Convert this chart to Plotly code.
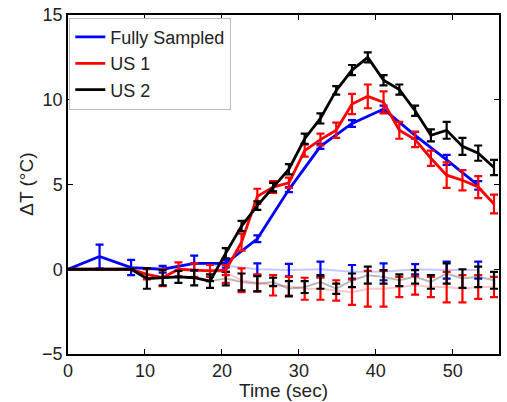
import plotly.graph_objects as go

# ---- data ----
t_us = [0, 2.05, 4.1, 6.15, 8.2, 10.25, 12.3, 14.35, 16.4, 18.45, 20.5, 22.55, 24.6, 26.65,
        28.7, 30.75, 32.8, 34.85, 36.9, 38.95, 41.0, 43.05, 45.1, 47.15, 49.2, 51.25, 53.3, 55.35]
t_fs = [0, 4.1, 8.2, 12.3, 16.4, 20.5, 24.6, 28.7, 32.8, 36.9, 41.0, 45.1, 49.2, 53.3]

fs_val = [0, 0.75, 0.1, 0.0, 0.35, 0.35, 1.8, 4.7, 7.25, 8.6, 9.45, 7.9, 6.45, 4.95]
fs_err = [0, 0.7, 0.45, 0.2, 0.45, 0.25, 0.2, 0.15, 0.15, 0.2, 0.2, 0.2, 0.3, 0.25]

us1_val = [0, 0, 0, 0, 0, -0.3, -0.5, 0.0, -0.05, -0.1, -0.05, 1.6, 4.3, 4.85,
           5.1, 7.0, 7.65, 8.2, 9.75, 10.2, 9.85, 8.2, 7.65, 6.55, 5.55, 5.25, 4.85, 3.85]
us1_err = [0, 0, 0, 0, 0, 0.3, 0.5, 0.4, 0.4, 0.35, 0.3, 0.5, 0.45, 0.35,
           0.3, 0.35, 0.35, 0.45, 0.6, 0.7, 0.65, 0.5, 0.45, 0.45, 0.75, 0.6, 0.65, 0.55]

us2_val = [0, 0, 0, 0, 0, -0.55, -0.5, -0.45, -0.5, -0.7, 0.95, 2.55, 3.75, 4.85,
           5.9, 7.7, 8.9, 10.55, 11.75, 12.5, 11.15, 10.6, 9.35, 7.9, 8.2, 7.25, 6.85, 6.0]
us2_err = [0, 0, 0, 0, 0, 0.6, 0.45, 0.35, 0.45, 0.4, 0.3, 0.3, 0.25, 0.25,
           0.3, 0.3, 0.3, 0.25, 0.3, 0.3, 0.3, 0.3, 0.3, 0.35, 0.5, 0.5, 0.45, 0.45]

# control region (faded lines)
t_fs_ctrl = [16.4, 20.5, 24.6, 28.7, 32.8, 36.9, 41.0, 45.1, 49.2, 53.3]
fs_ctrl_val = [0.35, 0.2, 0.0, -0.05, 0.0, -0.15, -0.15, 0.0, -0.05, -0.05]
fs_ctrl_err = [0, 0.35, 0.35, 0.37, 0.45, 0.4, 0.5, 0.3, 0.5, 0.5]

t_us_ctrl = [18.45, 20.5, 22.55, 24.6, 26.65, 28.7, 30.75, 32.8, 34.85, 36.9,
             38.95, 41.0, 43.05, 45.1, 47.15, 49.2, 51.25, 53.3, 55.35]
us1_ctrl_val = [-0.1, -0.2, -0.65, -0.8, -0.95, -1.0, -1.15, -1.15, -1.25, -1.35,
                -1.15, -1.15, -1.05, -0.95, -1.05, -1.05, -1.15, -1.05, -1.05]
us1_ctrl_err = [0, 0.6, 0.7, 0.5, 0.6, 0.55, 0.65, 0.65, 0.6, 0.75,
                1.05, 1.05, 0.6, 0.55, 0.6, 0.9, 0.8, 0.7, 0.6]
us2_ctrl_val = [-0.7, -0.55, -0.75, -0.85, -0.75, -1.15, -1.05, -0.75, -1.15, -0.65,
                -0.35, -0.45, -0.65, -0.45, -0.75, -0.25, -0.55, -0.45, -0.65]
us2_ctrl_err = [0, 0.4, 0.5, 0.45, 0.25, 0.45, 0.35, 0.4, 0.3, 0.4,
                0.5, 0.4, 0.35, 0.4, 0.4, 0.6, 0.55, 0.6, 0.5]

x_ticks = [0, 10, 20, 30, 40, 50]
y_ticks = [-5, 0, 5, 10, 15]
x_title = "Time (sec)"
y_title = "ΔT (°C)"

BLUE = "#0000ff"
RED = "#ff0000"
BLACK = "#000000"
FONT = "Liberation Sans, Arial"

fig = go.Figure()

def add(x, y, e, col, linecol, width, name=None, show=False):
    fig.add_trace(go.Scatter(
        x=x, y=y, mode="lines", name=name, showlegend=show,
        line=dict(color=linecol, width=width),
        error_y=dict(type="data", array=e, visible=True, color=col,
                     thickness=2.2, width=4),
        hoverinfo="skip"))

# faded control curves
add(t_fs_ctrl, fs_ctrl_val, fs_ctrl_err, BLUE, "rgba(0,0,255,0.22)", 2)
add(t_us_ctrl, us1_ctrl_val, us1_ctrl_err, RED, "rgba(255,0,0,0.22)", 2)
add(t_us_ctrl, us2_ctrl_val, us2_ctrl_err, BLACK, "rgba(0,0,0,0.28)", 2)

# main curves
add(t_fs, fs_val, fs_err, BLUE, BLUE, 2.8, "Fully Sampled", True)
add(t_us, us1_val, us1_err, RED, RED, 2.8, "US 1", True)
add(t_us, us2_val, us2_err, BLACK, BLACK, 2.8, "US 2", True)

axis_common = dict(showline=True, mirror="ticks", linecolor="black", linewidth=1.5,
                   ticks="inside", ticklen=5, tickwidth=1, tickcolor="black",
                   showgrid=False, zeroline=False, automargin=False,
                   tickfont=dict(family=FONT, size=18, color="#222"))

fig.update_layout(
    width=507, height=402,
    margin=dict(l=68, r=8, t=15, b=48),
    paper_bgcolor="white", plot_bgcolor="white",
    font=dict(family=FONT, size=18, color="#222"),
    xaxis=dict(range=[0, 56], tickvals=x_ticks, **axis_common),
    yaxis=dict(range=[-5, 15], tickvals=y_ticks, **axis_common),
    legend=dict(x=0.003, y=0.992, xanchor="left", yanchor="top",
                bgcolor="white", bordercolor="#bbbbbb", borderwidth=1,
                font=dict(size=18, color="#222"), tracegroupgap=0,
                itemwidth=30),
    annotations=[
        dict(text=x_title, xref="paper", yref="paper", x=0.5, y=-0.108,
             xanchor="center", yanchor="middle", showarrow=False,
             font=dict(family=FONT, size=19, color="#222")),
        dict(text=y_title, xref="paper", yref="paper", x=-0.097, y=0.5,
             xanchor="center", yanchor="middle", showarrow=False, textangle=-90,
             font=dict(family=FONT, size=19, color="#222")),
    ],
)

# remove the browser's default 8px body margin so the figure fills the window
fig.write_html("out.html", config={"displayModeBar": False},
               post_script="document.body.style.margin='0';")
